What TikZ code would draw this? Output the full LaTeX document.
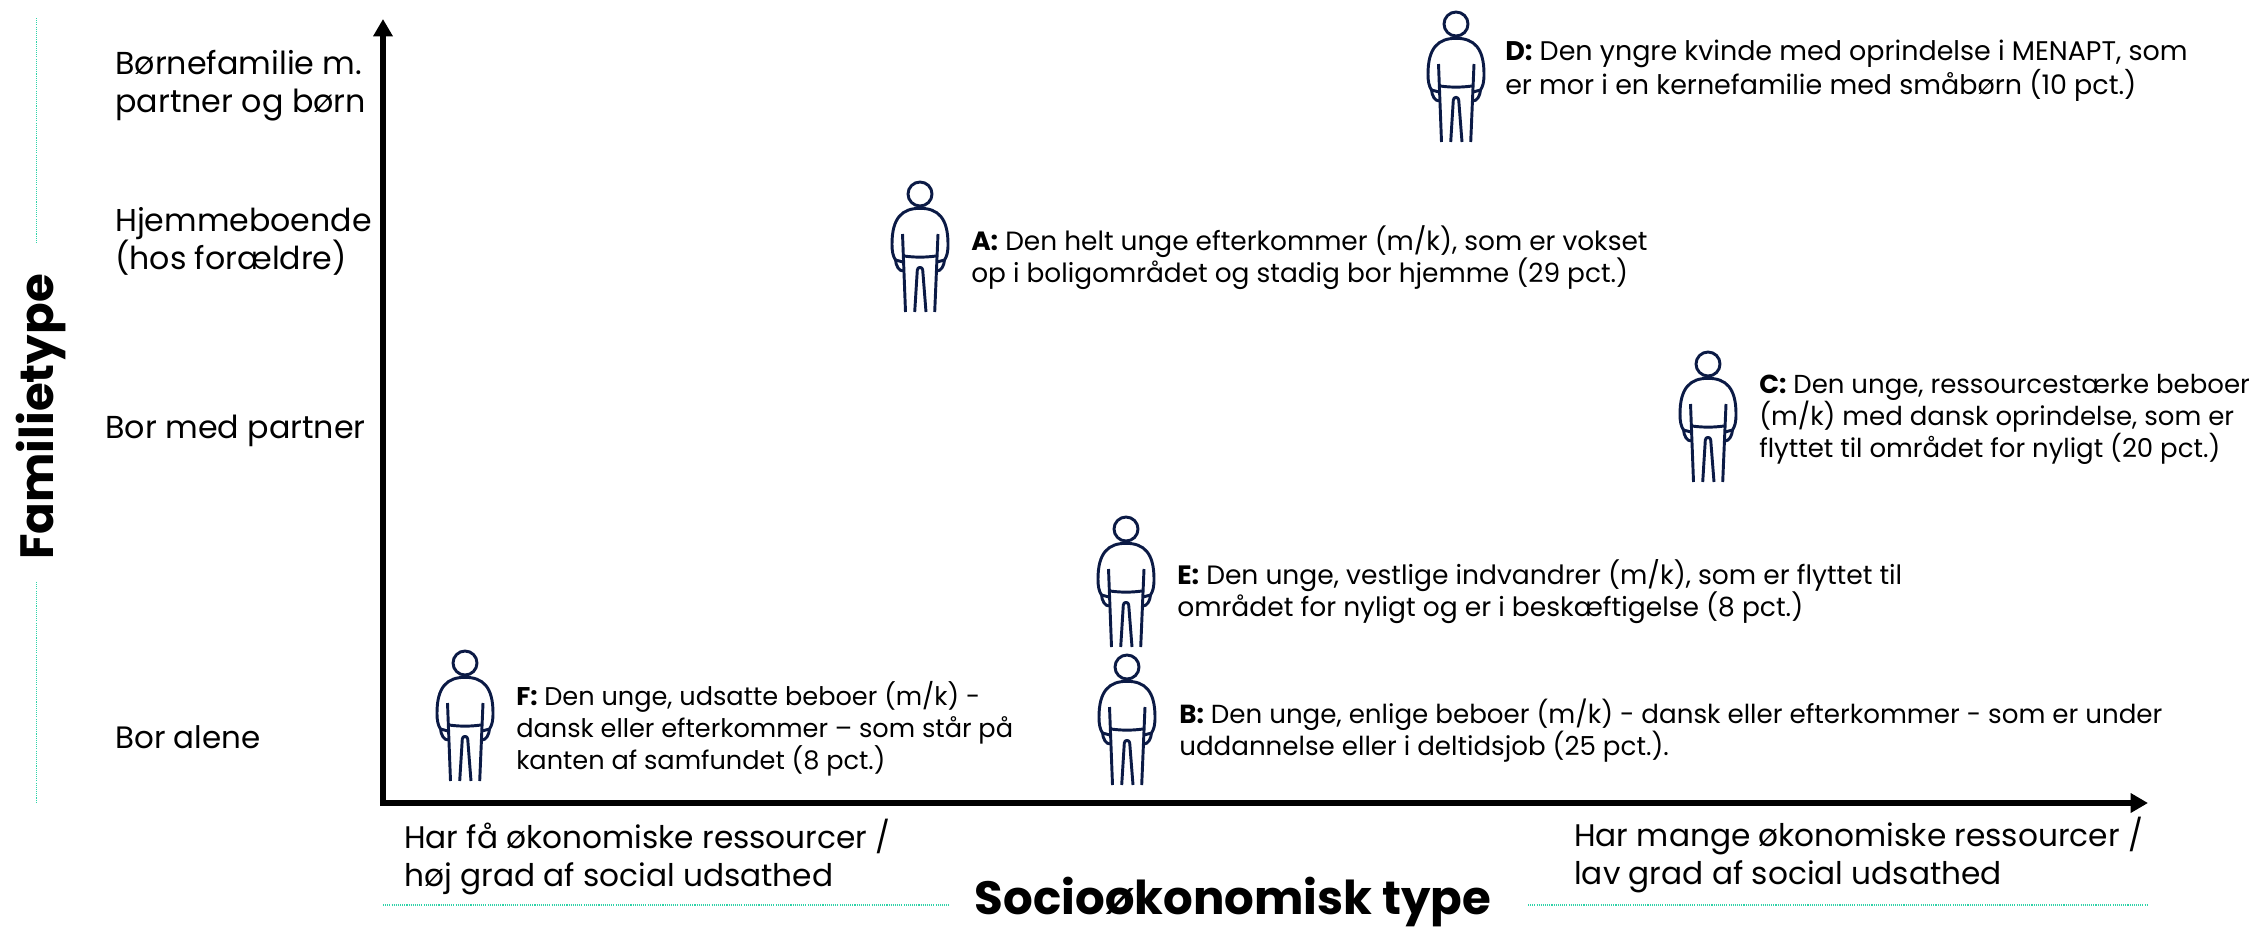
\documentclass[tikz,border=0pt]{standalone}
\usepackage{fontspec}
\setmainfont{Poppins}
\usetikzlibrary{arrows.meta}
\definecolor{navy}{HTML}{0B1A45}
\definecolor{mint}{HTML}{2ED3A8}
\tikzset{
  axisline/.style={line width=4.5pt,black,-{Triangle[length=13pt,width=14pt]}},
  mintline/.style={line width=1.1pt,mint,dash pattern=on 0.8pt off 0.8pt},
  txt/.style={anchor=west,align=left,inner sep=0pt,font=\fontsize{#1}{24}\selectfont},
  lab/.style={anchor=west,align=left,inner sep=0pt,font=\fontsize{#1}{28.5}\selectfont},
  ttl/.style={inner sep=0pt,font=\fontsize{#1}{36}\selectfont\bfseries},
  person/.pic={
    \begin{scope}[line width=2.2pt,navy,line cap=butt,line join=round]
    \draw (0,0) circle (12);
    \draw (-24.5,66) .. controls (-24,72) and (-21,77) .. (-17,77);
    \draw (24.5,66) .. controls (24,72) and (21,77) .. (17,77);
    \draw (-24.5,66) -- (-17,68);
    \draw (24.5,66) -- (17,68);
    \draw (-24.5,66) .. controls (-27,62) and (-28,58) .. (-28,50) .. controls (-28,24) and (-18,14.3) .. (0,14.3) .. controls (18,14.3) and (28,24) .. (28,50) .. controls (28,58) and (27,62) .. (24.5,66);
    \draw (-17.5,40) -- (-14.5,118);
    \draw (18,40) -- (14.7,118);
    \draw (-16,62) .. controls (-5,63.5) and (5,63.5) .. (16,62);
    \draw (-5.3,118) -- (-2.7,76) .. controls (-2.5,72.5) and (2.5,72.5) .. (2.7,76) -- (6,118);
    \end{scope}
  }
}
\begin{document}
\begin{tikzpicture}[x=0.75pt,y=-0.75pt]
\useasboundingbox (0,0) rectangle (2254,928);
% axes
\coordinate (origin) at (383,803);
\coordinate (ytip) at (383,19);
\coordinate (xtip) at (2148,803);
\draw[axisline] (380,803) -- (383,803) -- (ytip);
\draw[axisline] (380,803) -- (xtip);
% mint rules
\coordinate (m1) at (36.5,18);
\coordinate (m2) at (36.5,243);
\coordinate (m3) at (36.5,582);
\coordinate (m4) at (36.5,802);
\coordinate (m5) at (383,905);
\coordinate (m6) at (950,905);
\coordinate (m7) at (1528,905);
\coordinate (m8) at (2148,905);
\draw[mintline] (m1) -- (m2);
\draw[mintline] (m3) -- (m4);
\draw[mintline] (m5) -- (m6);
\draw[mintline] (m7) -- (m8);
% titles
\node[ttl=35,rotate=90] (ytitle) at (41,417) {Familietype};
\node[ttl=35] (xtitle) at (1233,902) {Socioøkonomisk type};
% y labels
\node[lab=23.8] (l1) at (115,86) {Børnefamilie m.\\partner og børn};
\node[lab=23.7] (l2) at (115,241) {Hjemmeboende\\(hos forældre)};
\node[lab=23.8] (l3) at (105,431) {Bor med partner};
\node[lab=23.2] (l4) at (115,737) {Bor alene};
% x labels
\node[lab=23.4] (x1) at (404,857) {Har få økonomiske ressourcer /\\høj grad af social udsathed};
\node[lab=23.4] (x2) at (1574,855) {Har mange økonomiske ressourcer /\\lav grad af social udsathed};
% people
\pic (pd) at (1456,24) {person};
\pic (pa) at (920,194) {person};
\pic (pc) at (1708,364) {person};
\pic (pe) at (1126,529) {person};
\pic (pb) at (1127,667) {person};
\pic (pf) at (465,663) {person};
% descriptions
\node[txt=20.2] (td) at (1505,71) {\textbf{D:} Den yngre kvinde med oprindelse i MENAPT, som\\er mor i en kernefamilie med småbørn (10 pct.)};
\node[txt=19.8] (ta) at (971,258) {\textbf{A:} Den helt unge efterkommer (m/k), som er vokset\\op i boligområdet og stadig bor hjemme (29 pct.)};
\node[txt=19.5] (tc) at (1759,419) {\textbf{C:} Den unge, ressourcestærke beboer\\(m/k) med dansk oprindelse, som er\\flyttet til området for nyligt (20 pct.)};
\node[txt=19.9] (te) at (1177,592) {\textbf{E:} Den unge, vestlige indvandrer (m/k), som er flyttet til\\området for nyligt og er i beskæftigelse (8 pct.)};
\node[txt=19.6] (tb) at (1179,731) {\textbf{B:} Den unge, enlige beboer (m/k) - dansk eller efterkommer - som er under\\uddannelse eller i deltidsjob (25 pct.).};
\node[txt=19.2] (tf) at (516,729) {\textbf{F:} Den unge, udsatte beboer (m/k) -\\dansk eller efterkommer – som står på\\kanten af samfundet (8 pct.)};
\end{tikzpicture}
\end{document}
